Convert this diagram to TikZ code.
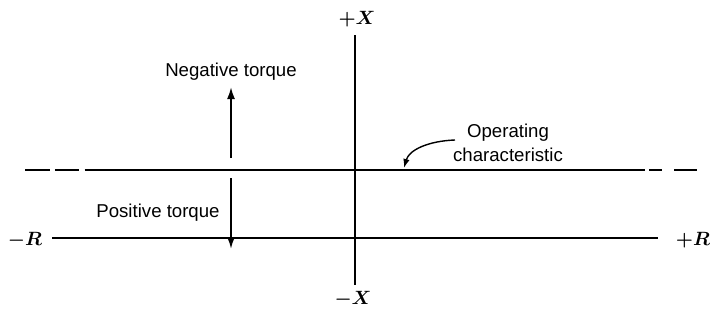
\documentclass[tikz,border=0pt]{standalone}
\usepackage{fontspec}
\setmainfont{Liberation Sans}
\usetikzlibrary{arrows.meta}

\begin{document}
\begin{tikzpicture}[
    x=0.02cm,
    y=-0.02cm,
    font=\fontsize{10.6}{14}\selectfont,
    >={Latex[length=2.4mm,width=1.6mm]},
    axis/.style={line width=1.1pt},
    torque/.style={
        ->,
        line width=1.1pt
    },
    axlabel/.style={
        font=\fontsize{11}{13}\selectfont\boldmath,
        inner sep=1pt
    },
    pointer/.style={
        ->,
        line width=0.8pt,
        >={Latex[length=1.8mm,width=1.3mm]}
    }
]
\useasboundingbox (0,0) rectangle (727,335);

% axis labels
\node[axlabel] (plusX) at (357,19) {$+X$};
\node[axlabel] (minusX) at (353,299) {$-X$};
\node[axlabel] (minusR) at (25,240) {$-R$};
\node[axlabel] (plusR) at (693,240) {$+R$};

% axes
\coordinate (xtop) at (355,35);
\coordinate (xbot) at (355,285);
\coordinate (rleft) at (52,238);
\coordinate (rright) at (658,238);
\draw[axis] (xtop) -- (xbot);
\draw[axis] (rleft) -- (rright);

% operating characteristic
\coordinate (ocL) at (25,170);
\coordinate (ocA) at (85,170);
\coordinate (ocB) at (645,170);
\coordinate (ocC) at (649,170);
\coordinate (ocR) at (698,170);
\draw[axis] (ocA) -- (ocB);
\draw[axis, dash pattern=on 14pt off 3pt] (ocL) -- (ocA);
\draw[axis, dash pattern=on 7.5pt off 7pt on 13pt off 3pt] (ocC) -- (ocR);

\node (opchar) at (508,143) [align=center] {Operating\\characteristic};
\coordinate (opfrom) at (455,140);
\coordinate (opto) at (404,168);
\draw[pointer] (opfrom) .. controls (428,141) and (409,150) .. (opto);

% torque directions
\node (negtorque) at (231,72) {Negative torque};
\coordinate (negbase) at (231,158);
\coordinate (negtip) at (231,87);
\draw[torque] (negbase) -- (negtip);

\node (postorque) at (158,213) {Positive torque};
\coordinate (posbase) at (231,178);
\coordinate (postip) at (231,249);
\draw[torque] (posbase) -- (postip);

\end{tikzpicture}
\end{document}
